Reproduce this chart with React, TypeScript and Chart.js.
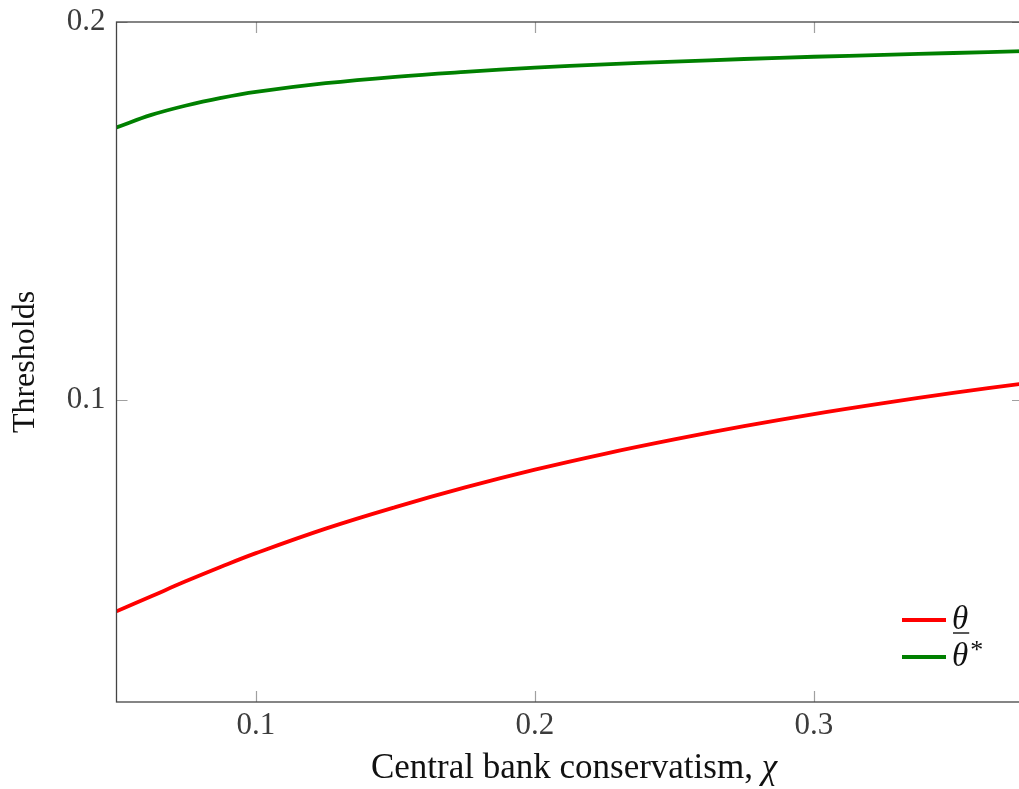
import React, { useEffect, useRef } from "react";
import { Chart, registerables } from "chart.js";

Chart.register(...registerables);

// Data
const chiValues = [0.05, 0.0625, 0.075, 0.0875, 0.1, 0.125, 0.15, 0.175, 0.2, 0.225, 0.25, 0.275, 0.3, 0.325, 0.35, 0.375];
const thetaLower = [0.044, 0.048, 0.052, 0.0558, 0.0594, 0.0659, 0.0716, 0.0768, 0.0815, 0.0857, 0.0895, 0.093, 0.0962, 0.0991, 0.1018, 0.1043];
const thetaStar = [0.1721, 0.1754, 0.1779, 0.1799, 0.1815, 0.1838, 0.1855, 0.1868, 0.1879, 0.1888, 0.1895, 0.1902, 0.1908, 0.1913, 0.1918, 0.1923];

const xTicks = [0.1, 0.2, 0.3];
const yTicks = [0.1, 0.2];

const seriesLabels = ["θ", "θ"];
const seriesSuperscripts = ["", "*"];
const seriesUnderline = [true, false];
const seriesColors = ["#ff0000", "#008000"];

const xTitle = "Central bank conservatism, ";
const xTitleSymbol = "χ";
const yTitle = "Thresholds";

const FONT = "'Liberation Serif', 'Times New Roman', serif";

export default function App() {
  const canvasRef = useRef<HTMLCanvasElement | null>(null);

  useEffect(() => {
    const canvas = canvasRef.current;
    if (!canvas) return;

    const framePlugin = {
      id: "frameTicksLegend",
      afterDraw(chart: any) {
        const { ctx, chartArea, scales } = chart;
        const { left, right, top, bottom } = chartArea;
        ctx.save();
        // inward ticks
        ctx.strokeStyle = "#a0a0a0";
        ctx.lineWidth = 1.2;
        const tl = 11;
        xTicks.forEach((v) => {
          const px = Math.round(scales.x.getPixelForValue(v)) + 0.5;
          ctx.beginPath();
          ctx.moveTo(px, bottom);
          ctx.lineTo(px, bottom - tl);
          ctx.moveTo(px, top);
          ctx.lineTo(px, top + tl);
          ctx.stroke();
        });
        yTicks.forEach((v) => {
          const py = Math.round(scales.y.getPixelForValue(v)) + 0.5;
          ctx.beginPath();
          ctx.moveTo(left, py);
          ctx.lineTo(left + tl, py);
          ctx.moveTo(right, py);
          ctx.lineTo(right - tl, py);
          ctx.stroke();
        });
        // frame
        ctx.strokeStyle = "#444444";
        ctx.lineWidth = 1.3;
        ctx.strokeRect(left, top, right - left, bottom - top);

        // x axis title (drawn so the symbol can be italic)
        ctx.fillStyle = "#111111";
        ctx.textBaseline = "alphabetic";
        ctx.textAlign = "left";
        ctx.font = `35px ${FONT}`;
        const w1 = ctx.measureText(xTitle).width;
        ctx.font = `italic 35px ${FONT}`;
        const w2 = ctx.measureText(xTitleSymbol).width;
        const cx = 574;
        const startX = cx - (w1 + w2) / 2;
        ctx.font = `35px ${FONT}`;
        ctx.fillText(xTitle, startX, 778);
        ctx.font = `italic 35px ${FONT}`;
        ctx.fillText(xTitleSymbol, startX + w1, 778);

        // legend
        const lx1 = 902;
        const lx2 = 946;
        const rowY = [620, 657];
        chart.data.datasets.forEach((ds: any, i: number) => {
          const y = rowY[i];
          ctx.strokeStyle = ds.borderColor;
          ctx.lineWidth = 3.8;
          ctx.beginPath();
          ctx.moveTo(lx1, y);
          ctx.lineTo(lx2, y);
          ctx.stroke();
          ctx.fillStyle = "#111111";
          ctx.font = `italic 33px ${FONT}`;
          ctx.textBaseline = "alphabetic";
          ctx.textAlign = "left";
          const tx = 952;
          const base = y + 9;
          ctx.fillText(seriesLabels[i], tx, base);
          const w = ctx.measureText(seriesLabels[i]).width;
          if (seriesUnderline[i]) {
            ctx.strokeStyle = "#111111";
            ctx.lineWidth = 1.4;
            ctx.beginPath();
            ctx.moveTo(tx + 1, base + 4);
            ctx.lineTo(tx + w + 1, base + 4);
            ctx.stroke();
          }
          if (seriesSuperscripts[i]) {
            ctx.font = `26px ${FONT}`;
            ctx.fillText(seriesSuperscripts[i], tx + w + 2, base - 8);
          }
        });
        ctx.restore();
      },
    };

    const chart = new Chart(canvas, {
      type: "line",
      data: {
        datasets: [
          {
            label: "theta_lower",
            data: chiValues.map((x, i) => ({ x, y: thetaLower[i] })),
            borderColor: seriesColors[0],
            borderWidth: 3.8,
            pointRadius: 0,
            tension: 0.4,
            fill: false,
          },
          {
            label: "theta_star",
            data: chiValues.map((x, i) => ({ x, y: thetaStar[i] })),
            borderColor: seriesColors[1],
            borderWidth: 3.8,
            pointRadius: 0,
            tension: 0.4,
            fill: false,
          },
        ],
      },
      options: {
        animation: false,
        responsive: false,
        maintainAspectRatio: false,
        layout: { padding: { left: 0, top: 22, right: 17, bottom: 0 } },
        plugins: {
          legend: { display: false },
          tooltip: { enabled: false },
          title: { display: false },
        },
        scales: {
          x: {
            type: "linear",
            min: 0.05,
            max: 0.375,
            grid: { display: false, drawTicks: false },
            border: { display: false },
            afterBuildTicks: (scale: any) => {
              scale.ticks = xTicks.map((v) => ({ value: v }));
            },
            afterFit: (scale: any) => {
              scale.height = 87;
              scale.paddingLeft = 0;
              scale.paddingRight = 0;
            },
            ticks: {
              padding: 5,
              color: "#3c3c3c",
              font: { family: FONT, size: 31 },
              maxRotation: 0,
              callback: (v: any) => String(Number(v).toFixed(1)),
            },
            title: { display: false },
          },
          y: {
            type: "linear",
            min: 0.02,
            max: 0.2,
            grid: { display: false, drawTicks: false },
            border: { display: false },
            afterBuildTicks: (scale: any) => {
              scale.ticks = yTicks.map((v) => ({ value: v }));
            },
            afterFit: (scale: any) => {
              scale.width = 116.5;
              scale.paddingTop = 0;
              scale.paddingBottom = 0;
            },
            ticks: {
              padding: 11,
              color: "#3c3c3c",
              font: { family: FONT, size: 31 },
              callback: (v: any) => String(Number(v).toFixed(1)),
            },
            title: {
              display: true,
              text: yTitle,
              color: "#111111",
              font: { family: FONT, size: 32 },
              padding: { top: 6, bottom: 0 },
            },
          },
        },
      },
      plugins: [framePlugin],
    });

    return () => {
      chart.destroy();
    };
  }, []);

  return (
    <div
      style={{
        position: "absolute",
        left: 0,
        top: 0,
        width: 1019,
        height: 789,
        overflow: "hidden",
        background: "#ffffff",
      }}
    >
      <canvas ref={canvasRef} width={1040} height={789} style={{ display: "block", width: 1040, height: 789 }} />
    </div>
  );
}
